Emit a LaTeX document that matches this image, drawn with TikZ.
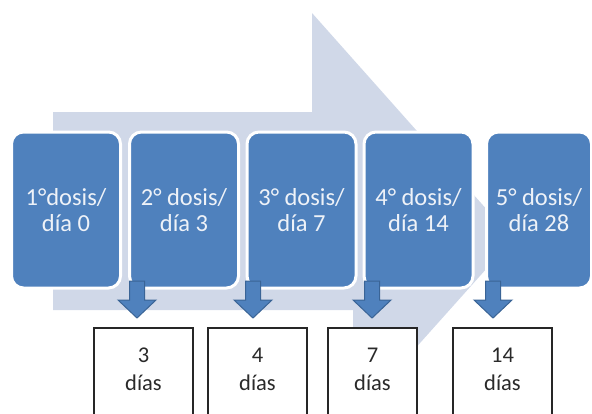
\documentclass[tikz,border=0pt]{standalone}
\usepackage{fontspec}
\setmainfont{Carlito}
\definecolor{boxblue}{HTML}{4F81BD}
\definecolor{arrowlight}{HTML}{D0D8E8}
\definecolor{darkblue}{HTML}{3A6496}
\definecolor{textdark}{HTML}{2A2A2A}
\definecolor{lighttext}{HTML}{EEF2F8}
\begin{document}
\begin{tikzpicture}[x=1pt,y=-1pt,
  dosebox/.style={draw=white, line width=3pt, fill=boxblue, rounded corners=12pt,
    minimum width=109pt, minimum height=156pt, text=lighttext, align=center,
    font=\fontsize{24.5}{25.5}\selectfont, inner sep=0pt},
  intervalbox/.style={draw=black!85, line width=1.6pt, fill=white,
    minimum width=99pt, minimum height=120pt, anchor=north, inner sep=0pt},
  intervaltext/.style={text=textdark, align=center, font=\fontsize{22.5}{28}\selectfont, inner sep=0pt},
  downarrow/.style={fill=boxblue, draw=darkblue, line width=1pt, line join=miter}]
\useasboundingbox (0,0) rectangle (592,413);
\clip (0,0) rectangle (592,413);
% big background arrow
\fill[arrowlight] (53,112) -- (312,112) -- (312,13) -- (513,239) -- (353,418)
  -- (353,310) -- (53,310) -- cycle;
% dose boxes
\node[dosebox] (d1) at (66,210) {1°dosis/\\día 0};
\node[dosebox] (d2) at (184,210) {2° dosis/\\día 3};
\node[dosebox] (d3) at (301.5,210) {3° dosis/\\día 7};
\node[dosebox] (d4) at (418.5,210) {4° dosis/\\día 14};
\node[dosebox, minimum width=105pt] (d5) at (539,210) {5° dosis/\\día 28};
% small down arrows
\foreach \i/\cx in {1/137,2/253,3/372,4/493}{
  \coordinate (a\i) at (\cx,318);
  \draw[downarrow] (\cx-7.5,281) -- (\cx+7.5,281) -- (\cx+7.5,300) -- (\cx+19,300)
    -- (a\i) -- (\cx-19,300) -- (\cx-7.5,300) -- cycle;
}
% interval boxes
\node[intervalbox] (b1) at (143.5,327) {};
\node[intervalbox] (b2) at (257.5,327) {};
\node[intervalbox, minimum width=89pt] (b3) at (372.5,327) {};
\node[intervalbox] (b4) at (502.5,327) {};
\node[intervaltext] (t1) at ([yshift=-42pt]b1.north) {3\\días};
\node[intervaltext] (t2) at ([yshift=-42pt]b2.north) {4\\días};
\node[intervaltext] (t3) at ([yshift=-42pt]b3.north) {7\\días};
\node[intervaltext] (t4) at ([yshift=-42pt]b4.north) {14\\días};
\end{tikzpicture}
\end{document}
